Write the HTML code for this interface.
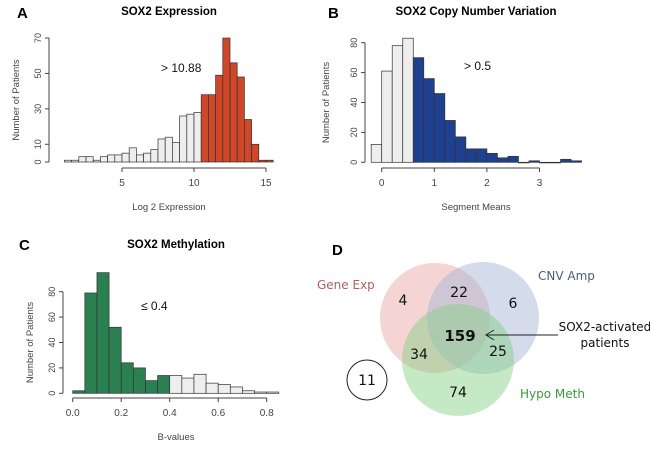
<!DOCTYPE html>
<html><head><meta charset="utf-8"><style>
html,body{margin:0;padding:0;background:#fff;}
svg{display:block;font-family:"Liberation Sans",sans-serif;}
</style></head><body>
<svg id="fig" width="650" height="449" viewBox="0 0 650 449" xmlns="http://www.w3.org/2000/svg">
<g id="venn">
  <text x="332" y="255" font-size="15" font-weight="bold">D</text>
  <circle cx="435" cy="318" r="55" fill="#e8a0a0" fill-opacity="0.45"/>
  <circle cx="483" cy="318" r="56" fill="#a9b8d6" fill-opacity="0.5"/>
  <circle cx="458" cy="360" r="56" fill="#7fce7f" fill-opacity="0.45"/>
  <g font-family="'DejaVu Sans','Liberation Sans',sans-serif">
  <text x="317" y="289" font-size="12" fill="#b06060">Gene Exp</text>
  <text x="538" y="280" font-size="12" fill="#4a5c85">CNV Amp</text>
  <text x="520" y="398" font-size="12" fill="#3a9a3a">Hypo Meth</text>
  <g font-size="14" fill="#111" text-anchor="middle">
  <text x="403" y="305">4</text>
  <text x="459" y="297">22</text>
  <text x="513" y="308">6</text>
  <text x="460" y="341" font-weight="bold" font-size="15">159</text>
  <text x="419" y="359">34</text>
  <text x="498" y="356">25</text>
  <text x="458" y="397">74</text>
  <text x="367" y="385">11</text>
  </g>
  <circle cx="367" cy="380" r="20" fill="none" stroke="#222" stroke-width="1"/>
  <line x1="558" y1="335" x2="486" y2="335" stroke="#222" stroke-width="1"/>
  <polyline points="494,330 486,335 494,340" fill="none" stroke="#222" stroke-width="1"/>
  <text x="605" y="331" font-size="12" text-anchor="middle" fill="#111">SOX2-activated</text>
  <text x="605" y="347" font-size="12" text-anchor="middle" fill="#111">patients</text>
  </g>
</g>
</svg>
<script>
// Panel A data
const aBreaks0 = 1.0, aWidth = 0.5;
const aCounts = [1,1,3,3,1,3,4,4,5,8,4,5,7,13,14,11,26,27,28,38,38,49,70,56,48,24,10,1,1];
const aCut = 10.5;
const aXTicks = [5,10,15];
const aYTicks = [0,10,30,50,70];
// Panel B data
const bBreaks0 = -0.2, bWidth = 0.2;
const bCounts = [12,61,78,83,70,56,46,28,17,9,9,6,3,4,0,1,0,0,2,1];
const bCut = 0.6;
const bXTicks = [0,1,2,3];
const bYTicks = [0,20,40,60,80];
// Panel C data
const cBreaks0 = 0.0, cWidth = 0.05;
const cCounts = [2,79,95,52,24,20,10,14,14,12,15,8,7,5,2,1,1];
const cCut = 0.4;
const cXTicks = [0.0,0.2,0.4,0.6,0.8];
const cXLabels = ["0.0","0.2","0.4","0.6","0.8"];
const cYTicks = [0,20,40,60,80];

const NS = "http://www.w3.org/2000/svg";
const svg = document.getElementById('fig');
function mk(tag, attrs, parent, text){
  const e = document.createElementNS(NS, tag);
  for (const k in attrs) e.setAttribute(k, attrs[k]);
  if (text !== undefined) e.textContent = text;
  parent.appendChild(e);
  return e;
}
function panel(o){
  const g = mk('g', {}, svg);
  
  
  const sx = v => o.x0 + (v - o.xv0) * o.xs;
  const sy = v => o.y0 - v * o.ys;
  const t1 = mk('text', {x:o.lx, y:o.ly, 'font-size':15, 'font-weight':'bold'}, g, o.letter);
  
  
  const tt = mk('text', {x:o.tx, y:o.ty, 'font-size':11.5, 'font-weight':'bold', 'text-anchor':'middle'}, g, o.title);
  
  
  o.counts.forEach((c, i) => {
    const a = o.b0 + i * o.w, b = a + o.w;
    const hot = o.hotBelow ? (b <= o.cut + 1e-9) : (a >= o.cut - 1e-9);
    const r = mk('rect', {x:sx(a), y:sy(c), width:sx(b)-sx(a), height:Math.max(c*o.ys,0.6),
      fill: hot ? o.color : '#eeeeee', stroke:'#333', 'stroke-width':0.7}, g);
    
    
  });
  const ya = mk('line', {x1:o.yax, x2:o.yax, y1:sy(o.yt[0]), y2:sy(o.yt[o.yt.length-1]), stroke:'#444'}, g);
  
  
  o.yt.forEach(v => {
    mk('line', {x1:o.yax-4, x2:o.yax, y1:sy(v), y2:sy(v), stroke:'#444'}, g);
    const tl = mk('text', {x:0, y:0, 'font-size':9, fill:'#444', 'text-anchor':'middle',
      transform:`translate(${o.yax-8},${sy(v)}) rotate(-90)`}, g, String(v));
    
    
  });
  const yl = mk('text', {x:0, y:0, 'font-size':9.5, fill:'#444', 'text-anchor':'middle',
    transform:`translate(${o.yax-(o.ylOff||30)},${(sy(o.yt[0])+sy(o.yt[o.yt.length-1]))/2}) rotate(-90)`}, g, 'Number of Patients');
  
  
  const xa = mk('line', {x1:sx(o.xt[0]), x2:sx(o.xt[o.xt.length-1]), y1:o.xay, y2:o.xay, stroke:'#444'}, g);
  
  
  o.xt.forEach((v, i) => {
    mk('line', {x1:sx(v), x2:sx(v), y1:o.xay, y2:o.xay+4, stroke:'#444'}, g);
    const tl = mk('text', {x:sx(v), y:o.xay+18, 'font-size':10, fill:'#444', 'text-anchor':'middle'}, g, o.xl ? o.xl[i] : String(v));
    
    
  });
  const xl = mk('text', {x:o.xlx, y:o.xay+42, 'font-size':9.5, fill:'#444', 'text-anchor':'middle'}, g, o.xtitle);
  
  
  const an = mk('text', {x:o.ax, y:o.ay, 'font-size':12, fill:'#111'}, g, o.ann);
  
  
}
panel({name:'panel-a-expression', letter:'A', lx:17, ly:18, title:'SOX2 Expression', tx:169, ty:15,
  counts:aCounts, b0:aBreaks0, w:aWidth, cut:aCut, hotBelow:false, color:'#cf4629',
  x0:122, xv0:5, xs:14.4, y0:162, ys:1.771, yt:aYTicks, yax:49, xt:aXTicks, xay:168,
  xtitle:'Log 2 Expression', xlx:169, ann:'> 10.88', ax:161, ay:72});
panel({name:'panel-b-cnv', letter:'B', lx:328, ly:18, title:'SOX2 Copy Number Variation', tx:476, ty:15,
  counts:bCounts, b0:bBreaks0, w:bWidth, cut:bCut, hotBelow:false, color:'#1f3f8f',
  x0:381.7, xv0:0, xs:52.6, y0:162.3, ys:1.495, yt:bYTicks, yax:365, ylOff:36, xt:bXTicks, xay:168,
  xtitle:'Segment Means', xlx:476, ann:'> 0.5', ax:464, ay:70});
panel({name:'panel-c-methylation', letter:'C', lx:19, ly:250, title:'SOX2 Methylation', tx:176, ty:248,
  counts:cCounts, b0:cBreaks0, w:cWidth, cut:cCut, hotBelow:true, color:'#2a8050',
  x0:72.7, xv0:0, xs:242.5, y0:393.3, ys:1.27, yt:cYTicks, yax:63, xt:cXTicks, xl:cXLabels, xay:398,
  xtitle:'B-values', xlx:176, ann:'\u2264 0.4', ax:141, ay:310});
</script>
</body></html>
